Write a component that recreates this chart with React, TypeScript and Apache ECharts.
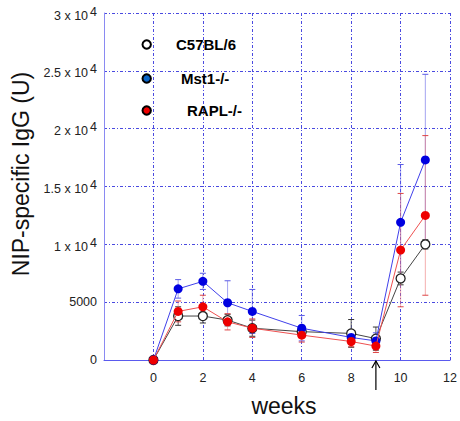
import React, { useEffect, useRef } from 'react';
import * as echarts from 'echarts';

const weeks = [0, 1, 2, 3, 4, 6, 8, 9, 10, 11];
const seriesNames = ['C57BL/6', 'Mst1-/-', 'RAPL-/-'];
const c57Values = [0, 3800, 3800, 3450, 2750, 2450, 2300, 1850, 7050, 10000];
const c57Errors = [0, 800, 600, 500, 700, 500, 1200, 1000, 550, 400];
const mstValues = [0, 6150, 6800, 4950, 4200, 2750, 1950, 1650, 11900, 17300];
const mstErrors = [0, 800, 700, 1900, 1900, 1100, 600, 700, 5000, 7400];
const raplValues = [0, 4200, 4600, 3300, 2750, 2150, 1600, 1200, 9500, 12500];
const raplErrors = [0, 900, 1000, 700, 800, 600, 450, 550, 4900, 6900];
const xTickValues = [0, 2, 4, 6, 8, 10, 12];
const yTickLabels: Record<number, string> = {
  0: '0',
  5000: '5000',
  10000: '{a|1 x 10}{b|4}',
  15000: '{a|1.5 x 10}{b|4}',
  20000: '{a|2 x 10}{b|4}',
  25000: '{a|2.5 x 10}{b|4}',
  30000: '{a|3 x 10}{b|4}',
};
const boostWeek = 9;

const FONT = 'Arial, "Liberation Sans", Helvetica, sans-serif';

function errorSeries(name: string, values: number[], errors: number[], color: string, capColor: string) {
  return {
    type: 'custom',
    name: name + ' error',
    silent: true,
    z: 1,
    encode: { x: 0, y: [1, 2] },
    data: weeks.map((w, i) => [w, values[i] - errors[i], values[i] + errors[i]]),
    renderItem: (params: any, api: any) => {
      const x = api.value(0);
      const loV = api.value(1);
      const hiV = api.value(2);
      if (hiV - loV <= 0) return null;
      const lo = api.coord([x, loV]);
      const hi = api.coord([x, hiV]);
      const hw = 3;
      return {
        type: 'group',
        children: [
          { type: 'line', shape: { x1: lo[0], y1: lo[1], x2: hi[0], y2: hi[1] }, style: { stroke: color, lineWidth: 1 } },
          { type: 'line', shape: { x1: lo[0] - hw, y1: lo[1], x2: lo[0] + hw, y2: lo[1] }, style: { stroke: capColor, lineWidth: 1 } },
          { type: 'line', shape: { x1: hi[0] - hw, y1: hi[1], x2: hi[0] + hw, y2: hi[1] }, style: { stroke: capColor, lineWidth: 1 } },
        ],
      };
    },
  };
}

function lineSeries(name: string, values: number[], lineColor: string, fill: string, border: string, z: number) {
  return {
    type: 'line',
    name,
    z,
    data: weeks.map((w, i) => [w, values[i]]),
    symbol: 'circle',
    symbolSize: 9,
    showSymbol: true,
    lineStyle: { color: lineColor, width: 1 },
    itemStyle: { color: fill, borderColor: border, borderWidth: fill === '#ffffff' ? 1.3 : 0 },
    emphasis: { disabled: true },
  };
}

export default function App() {
  const ref = useRef<HTMLDivElement>(null);
  useEffect(() => {
    document.body.style.margin = '0';
    const chart = echarts.init(ref.current!, null, { renderer: 'svg' });
    const gridColor = '#4a4ae0';
    chart.setOption({
      animation: false,
      grid: { left: 104, top: 13, right: 8, bottom: 61 },
      xAxis: {
        type: 'value',
        min: -2,
        max: 12,
        interval: 2,
        axisLine: { show: true, onZero: false, lineStyle: { color: '#5a5aee', width: 1 } },
        axisTick: { show: false },
        axisLabel: {
          margin: 11,
          fontSize: 12.5,
          fontFamily: FONT,
          color: '#222',
          formatter: (v: number) => (xTickValues.includes(v) ? String(v) : ''),
        },
        splitLine: { show: true, lineStyle: { color: gridColor, type: [3, 2, 1, 2], width: 1 } },
      },
      yAxis: {
        type: 'value',
        min: 0,
        max: 30000,
        interval: 5000,
        axisLine: { show: true, onZero: false, lineStyle: { color: '#8a8af2', width: 1 } },
        axisTick: { show: false },
        axisLabel: {
          margin: 7,
          fontSize: 12.5,
          fontFamily: FONT,
          color: '#222',
          formatter: (v: number) => yTickLabels[v] ?? '',
          rich: {
            a: { fontSize: 12.5, fontFamily: FONT, color: '#222', padding: [5, 0, 0, 0] },
            b: { fontSize: 12.5, fontFamily: FONT, color: '#222', padding: [0, 0, 3, 2] },
          },
        },
        splitLine: { show: true, lineStyle: { color: gridColor, type: [3, 2, 1, 2], width: 1 } },
      },
      series: [
        errorSeries(seriesNames[0], c57Values, c57Errors, '#555555', '#333333'),
        errorSeries(seriesNames[1], mstValues, mstErrors, 'rgba(90,90,230,0.55)', '#5a5ae6'),
        errorSeries(seriesNames[2], raplValues, raplErrors, 'rgba(235,110,110,0.55)', '#dd4444'),
        lineSeries(seriesNames[0], c57Values, '#444444', '#ffffff', '#222222', 3),
        lineSeries(seriesNames[1], mstValues, '#4040ea', '#0000e0', '#0000e0', 4),
        lineSeries(seriesNames[2], raplValues, '#ee5050', '#ee0000', '#ee0000', 5),
      ],
    });

    const p0 = chart.convertToPixel({ xAxisIndex: 0, yAxisIndex: 0 }, [boostWeek, 0]) as number[];
    const ax = p0[0];
    const ay = p0[1];
    const legendItems = [
      { name: seriesNames[0], fill: '#ffffff', y: 44.5, tx: 176 },
      { name: seriesNames[1], fill: '#0a64c8', y: 78.5, tx: 181 },
      { name: seriesNames[2], fill: '#ee0000', y: 110.5, tx: 187 },
    ];
    const graphics: any[] = [];
    legendItems.forEach((it) => {
      graphics.push({
        type: 'circle',
        shape: { cx: 146.7, cy: it.y, r: 4.2 },
        style: { fill: it.fill, stroke: '#000', lineWidth: 2 },
        z: 10,
      });
      graphics.push({
        type: 'text',
        x: it.tx,
        y: it.y,
        style: { text: it.name, fontSize: 15, fontWeight: 'bold', fontFamily: FONT, fill: '#000', verticalAlign: 'middle', align: 'left' },
        z: 10,
      });
    });
    graphics.push({
      type: 'line',
      shape: { x1: ax, y1: ay + 1, x2: ax, y2: ay + 30 },
      style: { stroke: '#000', lineWidth: 1.2 },
      z: 10,
    });
    graphics.push({
      type: 'polyline',
      shape: { points: [[ax - 4, ay + 8], [ax, ay + 1], [ax + 4, ay + 8]] },
      style: { stroke: '#000', lineWidth: 1.2, fill: 'none' },
      z: 10,
    });
    graphics.push({
      type: 'text',
      x: 21,
      y: 174,
      rotation: Math.PI / 2,
      style: { text: 'NIP-specific IgG (U)', fontSize: 23, fontFamily: FONT, fill: '#111', align: 'center', verticalAlign: 'middle' },
    });
    graphics.push({
      type: 'text',
      x: 284,
      y: 406,
      style: { text: 'weeks', fontSize: 23, fontFamily: FONT, fill: '#111', align: 'center', verticalAlign: 'middle' },
    });
    chart.setOption({ graphic: graphics });
    return () => chart.dispose();
  }, []);
  return <div ref={ref} style={{ width: 460, height: 421 }} />;
}
